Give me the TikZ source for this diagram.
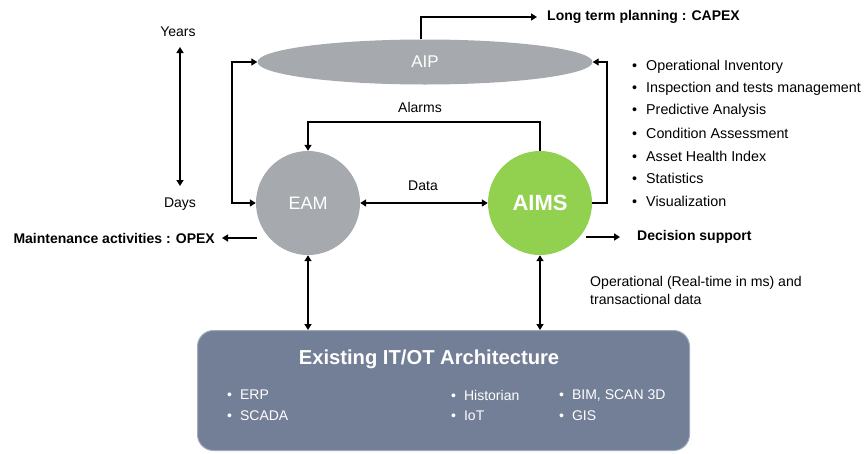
\documentclass[tikz,border=0pt]{standalone}
\usepackage{fontspec}
\setmainfont{Liberation Sans}
\usetikzlibrary{arrows.meta,shapes.geometric}
\definecolor{nodegray}{RGB}{166,169,173}
\definecolor{aimsgreen}{RGB}{146,208,80}
\definecolor{archblue}{RGB}{115,127,150}
\definecolor{archedge}{RGB}{160,170,185}
\tikzset{
  conn/.style={line width=1.8pt, -{Triangle[length=6pt,width=7pt]}},
  bconn/.style={line width=1.8pt, {Triangle[length=6pt,width=7pt]}-{Triangle[length=6pt,width=7pt]}},
  lbl/.style={font=\fontsize{14}{16}\selectfont, inner sep=0pt},
  blbl/.style={font=\fontsize{14}{16}\selectfont\bfseries, inner sep=0pt},
  item/.style={font=\fontsize{14.3}{16}\selectfont, inner sep=0pt, anchor=west},
  boxitem/.style={font=\fontsize{14}{16}\selectfont, text=white, inner sep=0pt, anchor=west},
}
\begin{document}
\begin{tikzpicture}[x=1pt,y=-1pt]
\useasboundingbox (0,0) rectangle (866,453);

% main blocks
\node (aip) [ellipse, fill=nodegray, minimum width=335pt, minimum height=45pt, inner sep=0pt,
  text=white, font=\fontsize{17}{19}\selectfont] at (425,62) {AIP};
\node (eam) [circle, fill=nodegray, minimum size=104pt, inner sep=0pt,
  text=white, font=\fontsize{18}{20}\selectfont] at (308,203) {EAM};
\node (aims) [circle, fill=aimsgreen, minimum size=104pt, inner sep=0pt,
  text=white, font=\fontsize{22}{24}\selectfont\bfseries] at (540,203) {AIMS};
\node (arch) [rounded corners=16pt, fill=archblue, draw=archedge, line width=1pt,
  minimum width=492pt, minimum height=120pt, inner sep=0pt, anchor=north west] at (197,330) {};

% architecture contents
\node (archtitle) [font=\fontsize{20.2}{22}\selectfont\bfseries, text=white, inner sep=0pt] at (429,359) {Existing IT/OT Architecture};
\node (erp) [boxitem] at (227,395) {•\hspace{8pt}ERP};
\node (scada) [boxitem] at (227,416) {•\hspace{8pt}SCADA};
\node (hist) [boxitem] at (451,395) {•\hspace{8pt}Historian};
\node (iot) [boxitem] at (451,416) {•\hspace{8pt}IoT};
\node (bim) [boxitem] at (559,395) {•\hspace{8pt}BIM, SCAN 3D};
\node (gis) [boxitem] at (559,416) {•\hspace{8pt}GIS};

% time scale
\node (years) [lbl] at (178,32) {Years};
\node (days) [lbl] at (180,204) {Days};
\draw[bconn] (180,47) -- (180,186);

% AIP output
\node (capex) [blbl, anchor=west] at (547,17) {Long term planning : CAPEX};
\draw[conn] (aip.north -| 421,0) -- (421,17) -- (capex.west -| 537,0);

% EAM <-> AIP loop on the left
\coordinate (lt) at (232,62);
\coordinate (lb) at (232,203);
\draw[bconn] (aip.west) -- (lt) -- (lb) -- (eam.west);

% AIMS -> AIP loop on the right
\coordinate (rb) at (607,203);
\coordinate (rt) at (607,62);
\draw[conn] (aims.east) -- (rb) -- (rt) -- (aip.east);

% alarms from AIMS to EAM
\coordinate (al) at (308,122);
\coordinate (ar) at (540,122);
\draw[conn] (aims.north) -- (ar) -- (al) -- (eam.north);
\node (alarms) [lbl] at (420,107) {Alarms};

% data exchange
\draw[bconn] (eam.east) -- (aims.west);
\node (data) [lbl] at (423,186) {Data};

% outputs
\node (opex) [blbl, anchor=east] at (215,238) {Maintenance activities : OPEX};
\coordinate (eamout) at (257,238);
\draw[conn] (eamout) -- (opex.east -| 222,0);
\node (decision) [blbl, anchor=west] at (637,237) {Decision support};
\coordinate (aimsout) at (586,237);
\draw[conn] (aimsout) -- (decision.west -| 620,0);

% links to the architecture
\draw[bconn] (eam.south) -- (eam.south |- arch.north);
\draw[bconn] (aims.south) -- (aims.south |- arch.north);
\node (opdata) [font=\fontsize{14.1}{18}\selectfont, align=left, anchor=north west, inner sep=0pt] at (590,276)
  {Operational (Real-time in ms) and\\transactional data};

% AIMS functions
\node (f1) [item] at (632,67) {•\hspace{9pt}Operational Inventory};
\node (f2) [item] at (632,89) {•\hspace{9pt}Inspection and tests management};
\node (f3) [item] at (632,111) {•\hspace{9pt}Predictive Analysis};
\node (f4) [item] at (632,133) {•\hspace{9pt}Condition Assessment};
\node (f5) [item] at (632,156) {•\hspace{9pt}Asset Health Index};
\node (f6) [item] at (632,178) {•\hspace{9pt}Statistics};
\node (f7) [item] at (632,201) {•\hspace{9pt}Visualization};
\end{tikzpicture}
\end{document}
